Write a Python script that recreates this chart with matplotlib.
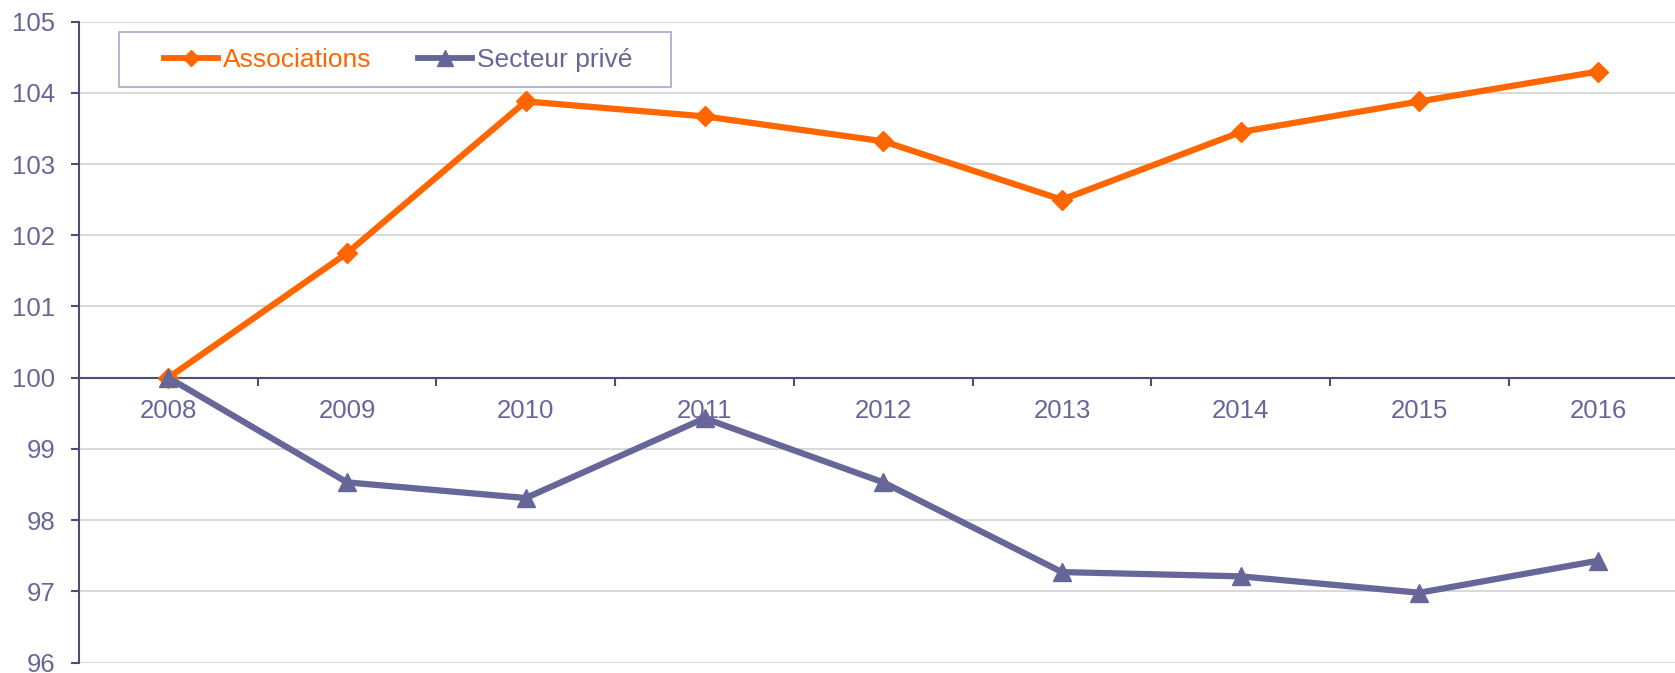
import matplotlib.pyplot as plt
from matplotlib.lines import Line2D
from matplotlib.patches import Rectangle

plt.rcParams['font.family'] = ['Liberation Sans', 'DejaVu Sans']

# ================================================
years = ['2008', '2009', '2010', '2011', '2012', '2013', '2014', '2015', '2016']
associations = [100, 101.75, 103.88, 103.67, 103.32, 102.5, 103.45, 103.88, 104.3]
secteur_prive = [100, 98.53, 98.31, 99.43, 98.53, 97.27, 97.21, 96.98, 97.43]
y_ticks = [96, 97, 98, 99, 100, 101, 102, 103, 104, 105]
series_names = ['Associations', 'Secteur privé']

ORANGE = '#FF6600'
PURPLE = '#666699'
AXIS = '#4D4D75'
FS = 18.5
# ================================================

W, H = 1675, 673
fig = plt.figure(figsize=(W / 100, H / 100), dpi=100)
ax = fig.add_axes([79 / W, 10.5 / H, 1 - 79 / W, 0.9522])

x = list(range(len(years)))
ax.plot(x, associations, color=ORANGE, lw=4.5, marker='D', ms=10, label=series_names[0], zorder=3)
ax.plot(x, secteur_prive, color=PURPLE, lw=4.5, marker='^', ms=13, label=series_names[1], zorder=3)

ax.set_ylim(96, 105)
ax.set_xlim(-0.5, 8.43)
ax.set_yticks(y_ticks)
ax.grid(axis='y', color='#D9D9D9', lw=1.5, zorder=0)
ax.set_axisbelow(True)

# x axis sits at 100, ticks between categories
for s in ['top', 'right']:
    ax.spines[s].set_visible(False)
ax.spines['bottom'].set_position(('data', 100))
for s in ['bottom', 'left']:
    ax.spines[s].set_color(AXIS)
    ax.spines[s].set_linewidth(1.5)

ax.set_xticks([i + 0.5 for i in range(len(years) - 1)])
ax.set_xticklabels([])
ax.set_xticks(x, minor=True)
ax.set_xticklabels(years, minor=True)
ax.tick_params(axis='x', which='major', length=6, width=1.5, color=AXIS, direction='out')
ax.tick_params(axis='x', which='minor', length=0, pad=15, labelsize=FS, labelcolor=PURPLE)
ax.tick_params(axis='y', length=6, width=1.5, color=AXIS, labelsize=FS, labelcolor=PURPLE, pad=11)

# legend box drawn separately so its padding matches
fig.patches.append(Rectangle((119 / W, 1 - 87 / H), 552 / W, 54.5 / H, transform=fig.transFigure,
                             fill=False, edgecolor='#A8A8C8', lw=1.2, zorder=5))
handles = [Line2D([], [], color=ORANGE, lw=4.2, marker='D', ms=8),
           Line2D([], [], color=PURPLE, lw=4.2, marker='^', ms=11)]
leg = ax.legend(handles, series_names, loc='center left',
                bbox_to_anchor=(164 / W, 1 - 60 / H), bbox_transform=fig.transFigure,
                ncol=2, fontsize=19, frameon=False, handlelength=2.05, handletextpad=0.2,
                columnspacing=1.75, borderpad=0, borderaxespad=0)
for t, c in zip(leg.get_texts(), [ORANGE, PURPLE]):
    t.set_color(c)

fig.savefig('out.png', dpi=100)
